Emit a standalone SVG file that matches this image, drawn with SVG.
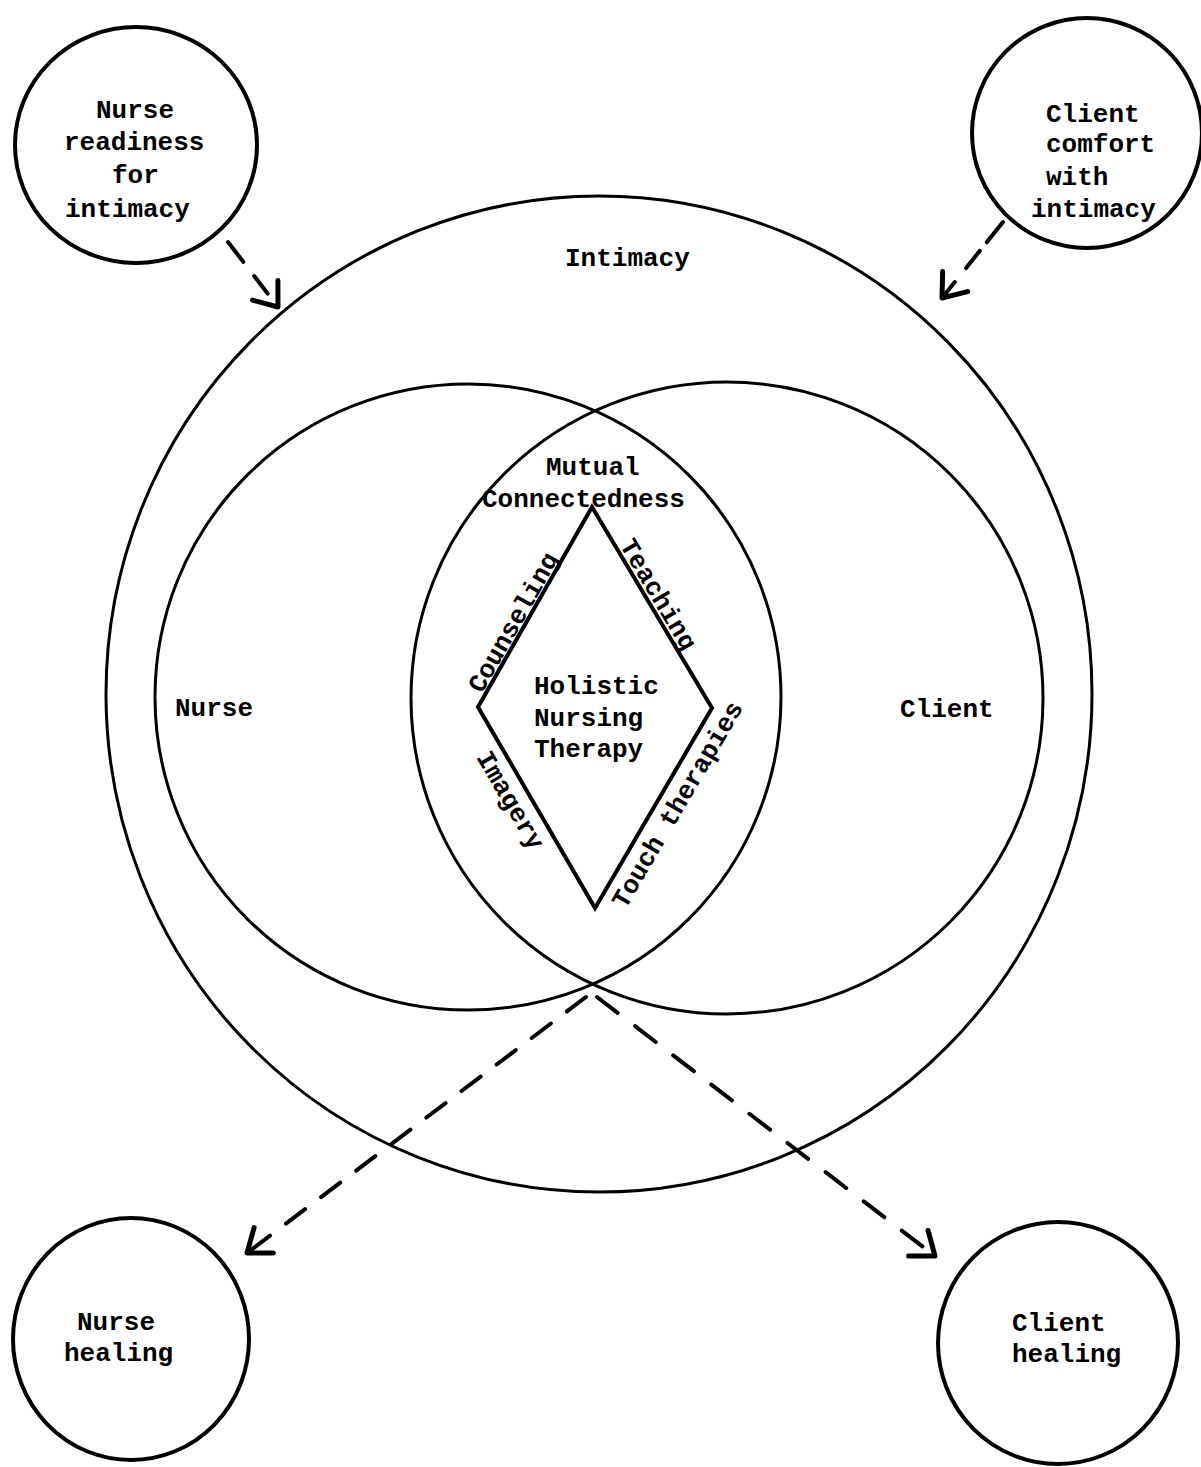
<svg xmlns="http://www.w3.org/2000/svg" width="1201" height="1467" viewBox="0 0 1201 1467">
<style>
.bg{fill:#fff}
.c{fill:none;stroke:#000;stroke-width:3}
.cs{fill:none;stroke:#000;stroke-width:4}
.d{fill:none;stroke:#000;stroke-width:4;stroke-linejoin:miter}
.t{font-family:"Liberation Mono","Courier New",monospace;font-size:26px;font-weight:bold;fill:#000}
.tm{text-anchor:middle}
.dash{fill:none;stroke:#000;stroke-width:4;stroke-linecap:round}
.ah{fill:none;stroke:#000;stroke-width:5;stroke-linecap:round;stroke-linejoin:round}
</style>
<defs>
<marker id="arr" markerUnits="userSpaceOnUse" viewBox="-30 -22 36 44" refX="0" refY="0" markerWidth="36" markerHeight="44" orient="auto" overflow="visible">
<path class="ah" d="M-21,-16 L0,0 L-21,16"/>
</marker>
</defs>
<rect class="bg" x="0" y="0" width="1201" height="1467"/>

<g id="intimacy">
<ellipse class="c" cx="599" cy="694" rx="493" ry="498"/>
<text class="t" x="565" y="266">Intimacy</text>
</g>

<g id="nurse">
<circle class="c" cx="468" cy="697" r="313"/>
<text class="t" x="175" y="716">Nurse</text>
</g>

<g id="client">
<circle class="c" cx="727" cy="698" r="316"/>
<text class="t" x="900" y="717">Client</text>
</g>

<g id="mutual-connectedness">
<text class="t" x="546" y="475">Mutual</text>
<text class="t" x="482" y="507">Connectedness</text>
</g>

<g id="holistic-nursing-therapy">
<path class="d" d="M592,507 L712,708 L595,908 L478,707 Z"/>
<text class="t" x="534" y="694">Holistic</text>
<text class="t" x="534" y="726">Nursing</text>
<text class="t" x="534" y="757">Therapy</text>
<text class="t tm" transform="translate(520.4,626.5) rotate(-60.3)">Counseling</text>
<text class="t tm" transform="translate(651.3,598.5) rotate(59.2)">Teaching</text>
<text class="t tm" transform="translate(503.5,804.4) rotate(59.8)">Imagery</text>
<text class="t tm" transform="translate(684.5,808.6) rotate(-59.7)">Touch therapies</text>
</g>

<g id="nurse-readiness">
<ellipse class="cs" cx="136" cy="145" rx="121" ry="118"/>
<text class="t" x="96" y="118">Nurse</text>
<text class="t" x="64" y="150">readiness</text>
<text class="t" x="112" y="183">for</text>
<text class="t" x="65" y="217">intimacy</text>
</g>

<g id="client-comfort">
<ellipse class="cs" cx="1087" cy="133" rx="115" ry="115"/>
<text class="t" x="1046" y="122">Client</text>
<text class="t" x="1046" y="152">comfort</text>
<text class="t" x="1046" y="185">with</text>
<text class="t" x="1031" y="217">intimacy</text>
</g>

<g id="nurse-healing">
<ellipse class="cs" cx="131" cy="1339" rx="118" ry="121"/>
<text class="t" x="77" y="1330">Nurse</text>
<text class="t" x="64" y="1361">healing</text>
</g>

<g id="client-healing">
<ellipse class="cs" cx="1058" cy="1343" rx="120" ry="121"/>
<text class="t" x="1012" y="1331">Client</text>
<text class="t" x="1012" y="1362">healing</text>
</g>

<g id="connectors">
<path class="dash" d="M228,242 L278,307" stroke-dasharray="25 18 22 60" marker-end="url(#arr)"/>
<path class="dash" d="M1003,222 L942,298" stroke-dasharray="26 11 22 18 30" marker-end="url(#arr)"/>
<path class="dash" d="M586,997 L247,1253" stroke-dasharray="24 20" marker-end="url(#arr)"/>
<path class="dash" d="M597,997 L935,1256" stroke-dasharray="26 22" marker-end="url(#arr)"/>
</g>
</svg>
